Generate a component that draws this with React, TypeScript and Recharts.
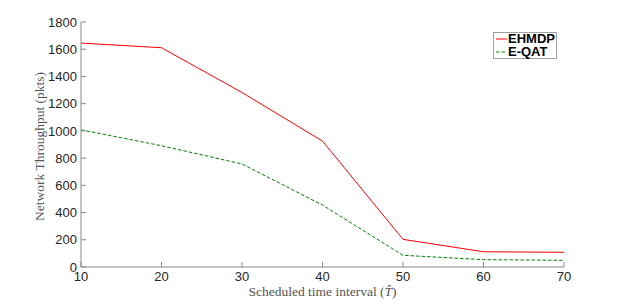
import { LineChart, Line, XAxis, YAxis, Legend, Label } from "recharts";

const intervals = [10, 20, 30, 40, 50, 60, 70];
const ehmdp = [1645, 1611, 1282, 925, 203, 112, 108];
const eqat = [1008, 891, 757, 455, 86, 54, 49];
const xTicks = [10, 20, 30, 40, 50, 60, 70];
const yTicks = [0, 200, 400, 600, 800, 1000, 1200, 1400, 1600, 1800];

const data = intervals.map((t, i) => ({ t, ehmdp: ehmdp[i], eqat: eqat[i] }));

const axisColor = "#878787";
const tickFont = { fontFamily: "Liberation Sans, Arial, sans-serif", fontSize: 13, fill: "#262626" };
const serif = "Liberation Serif, Times New Roman, serif";

const BottomTick = ({ x, y, payload }: any) => (
  <g>
    <line x1={x} y1={y} x2={x} y2={y - 5} stroke={axisColor} />
    <text x={x} y={y + 14} textAnchor="middle" {...tickFont}>
      {payload.value}
    </text>
  </g>
);

const LeftTick = ({ x, y, payload }: any) => (
  <g>
    <line x1={x} y1={y} x2={x + 5} y2={y} stroke={axisColor} />
    <text x={x - 4} y={y} dy="0.36em" textAnchor="end" {...tickFont}>
      {payload.value}
    </text>
  </g>
);

const TopTick = ({ x, y }: any) => <line x1={x} y1={y} x2={x} y2={y + 5} stroke={axisColor} />;
const RightTick = ({ x, y }: any) => <line x1={x} y1={y} x2={x - 5} y2={y} stroke={axisColor} />;

const XTitle = ({ viewBox }: any) => (
  <text
    x={viewBox.x + viewBox.width / 2}
    y={viewBox.y + 29}
    textAnchor="middle"
    fontFamily={serif}
    fontSize={13.5}
    fill="#555"
  >
    Scheduled time interval (<tspan fontStyle="italic">T̂</tspan>)
  </text>
);

const YTitle = ({ viewBox }: any) => {
  const cx = viewBox.x + 39;
  const cy = viewBox.y + viewBox.height / 2 + 2;
  return (
    <text
      x={cx}
      y={cy}
      dy="0.35em"
      textAnchor="middle"
      transform={`rotate(-90, ${cx}, ${cy})`}
      fontFamily={serif}
      fontSize={13.5}
      fill="#555"
    >
      Network Throughput (pkts)
    </text>
  );
};

const renderLegend = ({ payload }: any) => (
  <div
    style={{
      border: "1px solid #a0a0a0",
      background: "#fff",
      padding: "0 1px 0 1px",
      fontFamily: "Liberation Sans, Arial, sans-serif",
      fontWeight: "bold",
      fontSize: 13,
      color: "#000",
    }}
  >
    {(payload || []).map((entry: any) => (
      <div
        key={entry.value}
        style={{ display: "flex", alignItems: "center", whiteSpace: "nowrap", height: 12.5, lineHeight: "12.5px" }}
      >
        <svg width={12} height={10} style={{ marginRight: 1 }}>
          <line
            x1={1}
            y1={5}
            x2={12}
            y2={5}
            stroke={entry.color}
            strokeDasharray={entry.payload?.strokeDasharray}
          />
        </svg>
        <span>{entry.value}</span>
      </div>
    ))}
  </div>
);

export default function App() {
  return (
    <div style={{ position: "absolute", left: 0, top: 0, width: 623, height: 301, background: "#fff" }}>
      <LineChart width={623} height={301} data={data} margin={{ top: 22, right: 59, bottom: 0, left: 0 }}>
        <XAxis
          dataKey="t"
          type="number"
          domain={[10, 70]}
          ticks={xTicks}
          height={34}
          tickSize={0}
          tickMargin={0}
          tickLine={false}
          axisLine={{ stroke: axisColor }}
          tick={BottomTick}
        >
          <Label content={XTitle} />
        </XAxis>
        <XAxis
          xAxisId="top"
          orientation="top"
          dataKey="t"
          type="number"
          domain={[10, 70]}
          ticks={xTicks}
          height={0}
          tickSize={0}
          tickMargin={0}
          tickLine={false}
          axisLine={{ stroke: axisColor }}
          tick={TopTick}
        />
        <YAxis
          type="number"
          domain={[0, 1800]}
          ticks={yTicks}
          width={81}
          tickSize={0}
          tickMargin={0}
          tickLine={false}
          axisLine={{ stroke: axisColor }}
          tick={LeftTick}
        >
          <Label content={YTitle} />
        </YAxis>
        <YAxis
          yAxisId="right"
          orientation="right"
          type="number"
          domain={[0, 1800]}
          ticks={yTicks}
          width={0}
          tickSize={0}
          tickMargin={0}
          tickLine={false}
          axisLine={{ stroke: axisColor }}
          tick={RightTick}
        />
        <Legend
          layout="vertical"
          align="center"
          verticalAlign="middle"
          itemSorter="dataKey"
          wrapperStyle={{ left: 493, top: 32 }}
          content={renderLegend}
        />
        <Line
          dataKey="ehmdp"
          name="EHMDP"
          stroke="#ff0000"
          strokeWidth={1}
          dot={false}
          isAnimationActive={false}
        />
        <Line
          dataKey="eqat"
          name="E-QAT"
          stroke="#008000"
          strokeWidth={1}
          strokeDasharray="3.5 2"
          dot={false}
          isAnimationActive={false}
        />
      </LineChart>
    </div>
  );
}
